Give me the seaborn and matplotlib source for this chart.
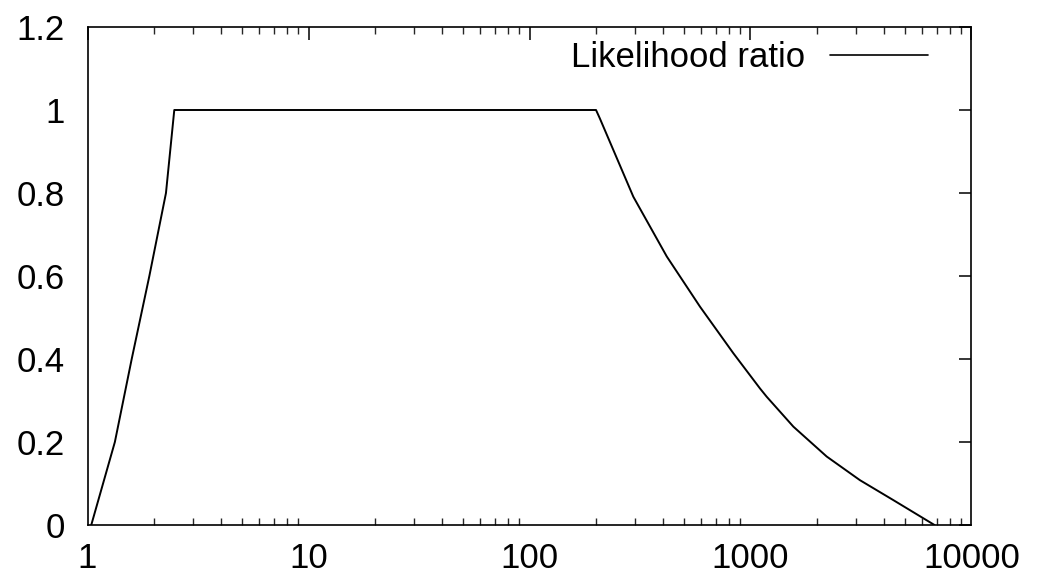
import matplotlib
matplotlib.use("Agg")
import matplotlib.pyplot as plt
import matplotlib.ticker as mticker
import seaborn as sns
import pandas as pd

# Data
x_values = [1.04, 1.33, 1.585, 1.905, 2.265, 2.47, 200, 208, 295, 418, 591, 836,
            1104, 1184, 1563, 2212, 3128, 4428, 6800]
y_values = [0.0, 0.2, 0.4, 0.6, 0.8, 1.0, 1.0, 0.98, 0.791, 0.647, 0.526, 0.414,
            0.329, 0.309, 0.237, 0.165, 0.108, 0.060, 0.0]
series_name = "Likelihood ratio"
x_ticks = [1, 10, 100, 1000, 10000]
x_tick_labels = ["1", "10", "100", "1000", "10000"]
y_ticks = [0, 0.2, 0.4, 0.6, 0.8, 1.0, 1.2]
y_tick_labels = ["0", "0.2", "0.4", "0.6", "0.8", "1", "1.2"]

sns.set_theme(style="white")
plt.rcParams['font.family'] = ['Liberation Sans', 'DejaVu Sans']
plt.rcParams['text.color'] = 'black'

df = pd.DataFrame({"x": x_values, "y": y_values, "series": series_name})

fig = plt.figure(figsize=(10.37, 5.79), dpi=100)
ax = fig.add_axes([87.5 / 1037, 1 - 525 / 579, (971.5 - 87.5) / 1037, (525 - 27) / 579])

sns.lineplot(data=df, x="x", y="y", hue="series", palette=["black"], ax=ax,
             linewidth=1.4, sort=False, estimator=None)

ax.set_xscale("log")
ax.set_xlim(1, 10000)
ax.set_ylim(0, 1.2)
ax.set_xticks(x_ticks)
ax.set_xticklabels(x_tick_labels)
ax.xaxis.set_minor_locator(mticker.LogLocator(base=10, subs=range(2, 10), numticks=20))
ax.xaxis.set_minor_formatter(mticker.NullFormatter())
ax.set_yticks(y_ticks)
ax.set_yticklabels(y_tick_labels)
ax.set_xlabel("")
ax.set_ylabel("")

for s in ax.spines.values():
    s.set_visible(True)
    s.set_color("black")
    s.set_linewidth(1.2)

ax.tick_params(axis="both", which="major", direction="in", length=9, width=1.1,
               top=True, right=True, labelsize=25, colors="black")
ax.tick_params(axis="x", which="minor", direction="in", length=5, width=1.0,
               top=True, bottom=True)
ax.tick_params(axis="y", which="major", pad=16.5)
ax.tick_params(axis="x", which="major", pad=12)

leg = ax.legend(loc="upper right", frameon=False, markerfirst=False, fontsize=25,
                handlelength=2.82, handletextpad=0.72, borderaxespad=0, borderpad=0,
                bbox_to_anchor=((928 - 87.5) / 884, (525 - 41) / 498))
for h in leg.get_lines():
    h.set_linewidth(1.2)
for t in leg.get_texts():
    t.set_color("black")

fig.savefig("out.png", dpi=100, facecolor="white")
